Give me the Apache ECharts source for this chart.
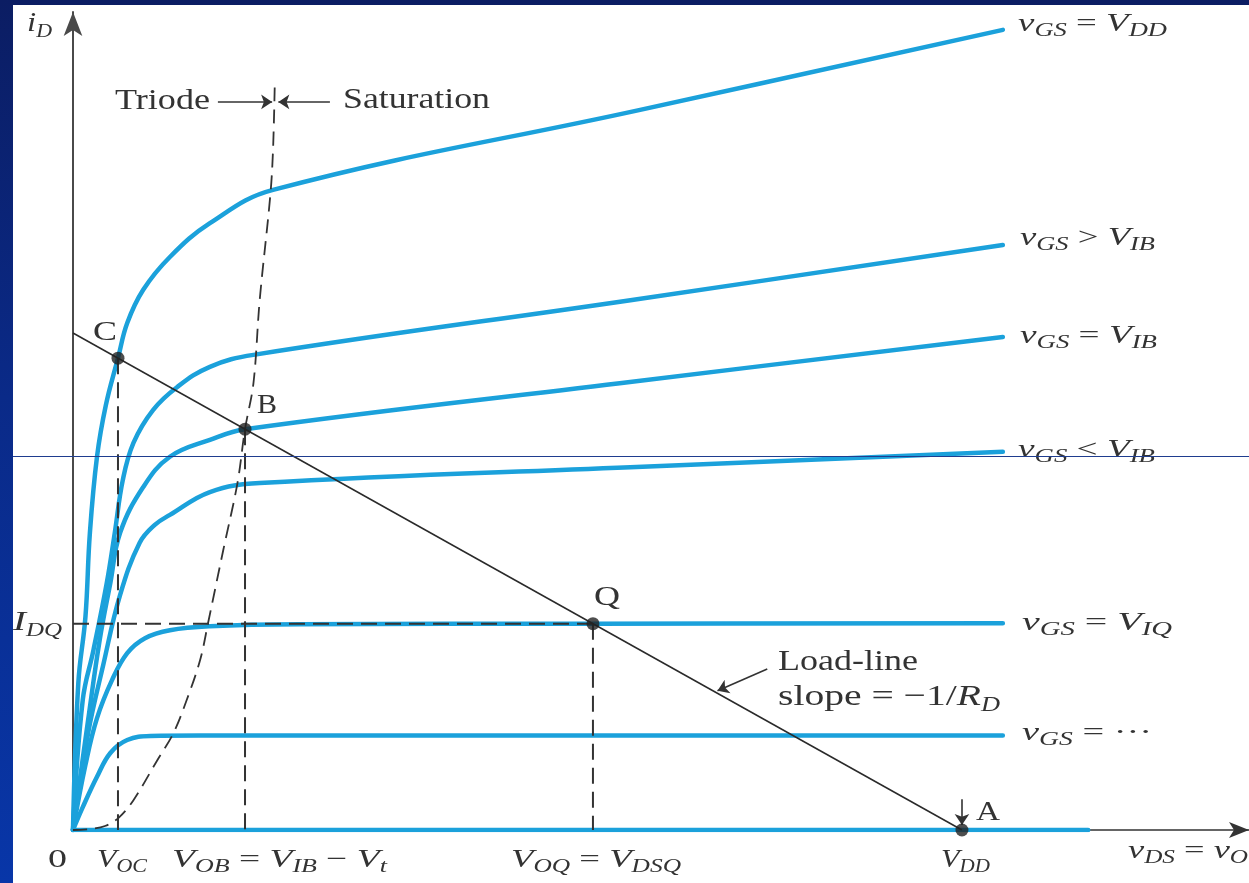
<!DOCTYPE html>
<html>
<head>
<meta charset="utf-8">
<script src="https://cdn.jsdelivr.net/npm/echarts@6/dist/echarts.min.js"></script>
<style>
  html, body { margin: 0; padding: 0; width: 1249px; height: 883px; overflow: hidden;
    background: linear-gradient(180deg, #0b1d63 0%, #0a2a88 45%, #0836a8 100%); }
  #panel { position: absolute; left: 13px; top: 5px; right: 0; bottom: 0; background: #ffffff; }
  #chart { position: absolute; left: 0; top: 0; width: 1249px; height: 883px; }
</style>
</head>
<body>
<div id="panel"></div>
<div id="chart"></div>
<script>
// v_DS in units of V_DD/10, i_D in units of V_DD/(10·R_D): the load line runs from (0,10) to (10,0).

// Drain characteristics, one array per gate voltage: [v_DS, i_D]
const curveVDD     = [[0,0],[0.06,2.96],[0.14,4.29],[0.19,5.98],[0.27,7.51],[0.37,8.55],[0.506,9.494],[0.61,10.20],[0.79,10.87],[1.09,11.53],[1.54,12.21],[2.25,12.88],[6.38,14.49],[10.46,16.10]];
const curveAboveIB = [[0,0],[0.11,2.62],[0.23,3.62],[0.38,4.97],[0.47,5.98],[0.56,7.04],[0.68,7.79],[0.90,8.45],[1.17,8.91],[1.54,9.32],[2.03,9.56],[6.27,10.66],[10.46,11.77]];
const curveIB      = [[0,0],[0.17,2.21],[0.30,3.82],[0.42,4.97],[0.53,5.98],[0.79,6.90],[1.09,7.51],[1.54,7.85],[1.935,8.065],[6.15,8.99],[10.46,9.92]];
const curveBelowIB = [[0,0],[0.17,1.95],[0.34,3.32],[0.53,4.73],[0.75,5.78],[0.92,6.14],[1.09,6.34],[1.54,6.80],[2.10,6.98],[6.27,7.30],[10.46,7.61]];
const curveIQ      = [[0,0],[0.14,1.31],[0.27,2.25],[0.44,3.02],[0.61,3.56],[0.81,3.86],[1.09,4.02],[1.54,4.10],[2.55,4.14],[5.849,4.151],[10.46,4.16]];
const curveLow     = [[0,0],[0.11,0.46],[0.27,1.07],[0.42,1.55],[0.61,1.81],[0.87,1.89],[1.43,1.90],[10.46,1.90]];
const curveOff     = [[0,0],[11.42,0]];

// Triode / saturation boundary v_DS = v_GS − V_t
const triodeEdge = [[0,0],[0.19,0.02],[0.36,0.08],[0.51,0.24],[0.68,0.60],[0.95,1.41],[1.13,1.95],[1.28,2.62],[1.43,3.42],[1.52,4.17],[1.69,5.63],[1.85,6.98],[1.935,8.065],[2.03,8.99],[2.10,10.66],[2.22,12.78],[2.25,13.68],[2.27,15.03]];

// Load line, slope −1/R_D
const loadLine = [[0,10],[10,0]];

// Operating points C, B, Q, A
const pointNames = ['C', 'B', 'Q', 'A'];
const pointValues = [[0.506,9.494],[1.935,8.065],[5.849,4.151],[10,0]];

// Annotation arrows: [tail, tip]
const arrowSegments = [
  [[1.63,14.65],[2.24,14.65]],
  [[2.89,14.65],[2.31,14.65]],
  [[7.81,3.24],[7.25,2.80]],
  [[10,0.62],[10,0.10]]
];

// Texts (rich markup: m = italic, r = roman, s = italic subscript)
const curveLabels = [
  '{m|v}{s|GS}{r| = }{m|V}{s|DD}',
  '{m|v}{s|GS}{r| > }{m|V}{s|IB}',
  '{m|v}{s|GS}{r| = }{m|V}{s|IB}',
  '{m|v}{s|GS}{r| < }{m|V}{s|IB}',
  '{m|v}{s|GS}{r| = }{m|V}{s|IQ}',
  '{m|v}{s|GS}{r| = \u00B7\u00B7\u00B7}'
];
const tickLabels = [
  '{r|0}',
  '{m|V}{s|OC}',
  '{m|V}{s|OB}{r| = }{m|V}{s|IB}{r| \u2212 }{m|V}{s|t}',
  '{m|V}{s|OQ}{r| = }{m|V}{s|DSQ}',
  '{m|V}{s|DD}',
  '{m|v}{s|DS}{r| = }{m|v}{s|O}'
];
const axisTitleY = '{m|i}{s|D}';
const levelLabel = '{m|I}{s|DQ}';
const regionLabels = ['{r|Triode}', '{r|Saturation}'];
const loadLineLabels = ['{r|Load-line}', '{r|slope = \u22121/}{m|R}{s|D}'];

const BLUE = '#1ba1db';
const INK = '#333333';
const FONT = '"Liberation Serif", "Times New Roman", serif';

const X_MAX = 13.229, Y_MAX = 16.459;

const chart = echarts.init(document.getElementById('chart'), null, { renderer: 'canvas' });

const measureCtx = document.createElement('canvas').getContext('2d');
function parseTokens(str) {
  const out = [];
  str.replace(/\{(\w)\|([^}]*)\}/g, (_, k, t) => { out.push([k, t]); return ''; });
  return out;
}
// Text block: left edge x, main baseline, total width; subscripts dropped below the baseline
function textBlock(str, x, base, width, M, S, drop, fixedScale) {
  const lh = Math.round(M * 1.25);
  const hs = Math.max(2, lh - 2 * drop + 0.675 * (S - M));
  const fonts = { m: `italic ${M}px ${FONT}`, r: `${M}px ${FONT}`, s: `italic ${S}px ${FONT}` };
  let w = 0;
  parseTokens(str).forEach(([k, t]) => { measureCtx.font = fonts[k]; w += measureCtx.measureText(t).width; });
  const sx = fixedScale || (width / w);
  return {
    type: 'text', x: x, y: base - 0.3375 * M, scaleX: sx, z: 100, silent: true,
    style: {
      text: str, align: 'left', verticalAlign: 'middle',
      fontFamily: FONT, fontSize: M, fill: INK,
      rich: {
        m: { fontFamily: FONT, fontSize: M, fontStyle: 'italic', lineHeight: lh, fill: INK },
        r: { fontFamily: FONT, fontSize: M, lineHeight: lh, fill: INK },
        s: { fontFamily: FONT, fontSize: S, fontStyle: 'italic', lineHeight: hs, verticalAlign: 'bottom', fill: INK }
      }
    }
  };
}

const graphics = [];
// curve labels on the right
[[1018,33,149],[1020,247,135],[1020,345,137],[1018,459,137],[1022,632,150],[1022,742,130]]
  .forEach((p, i) => graphics.push(textBlock(curveLabels[i], p[0], p[1], p[2], 25, 18, 7)));
// labels under the v_DS axis
[[48,869,19],[97,869,50],[172,869,215],[511,869,170],[941,869,49]]
  .forEach((p, i) => graphics.push(textBlock(tickLabels[i], p[0], p[1], p[2], 26, 18, 8)));
graphics.push(textBlock(tickLabels[5], 1128, 860, 0, 26, 18, 9, 1.4));
graphics.push(textBlock(axisTitleY, 27, 33, 25, 27, 18, 5));
graphics.push(textBlock(levelLabel, 13, 632, 49, 28, 18, 6));
// point letters
[[93,342,24],[257,415,20],[594,607,26],[976,822,24]]
  .forEach((p, i) => graphics.push(textBlock('{r|' + pointNames[i] + '}', p[0], p[1], p[2], 28, 18, 6)));
graphics.push(textBlock(regionLabels[0], 115, 111, 95, 30, 20, 7));
graphics.push(textBlock(regionLabels[1], 343, 110, 147, 30, 20, 7));
graphics.push(textBlock(loadLineLabels[0], 778, 672, 140, 30, 20, 7));
graphics.push(textBlock(loadLineLabels[1], 778, 707, 222, 30, 20, 7));
// thin rule across the slide
graphics.push({ type: 'line', z: 120, silent: true,
  shape: { x1: 13, y1: 456.5, x2: 1249, y2: 456.5 },
  style: { stroke: '#1f3d8f', lineWidth: 1 } });

function curve(data, smooth) {
  return { type: 'line', data: data, showSymbol: false, smooth: smooth,
    lineStyle: { color: BLUE, width: 4.5, cap: 'round', join: 'round' }, z: 2, silent: true };
}
function dashed(data, width, dash, smooth) {
  return { type: 'line', data: data, showSymbol: false, smooth: smooth || false,
    lineStyle: { color: '#333', width: width, type: dash }, z: 3, silent: true };
}

const series = [
  curve(curveVDD, 0.4), curve(curveAboveIB, 0.4), curve(curveIB, 0.4),
  curve(curveBelowIB, 0.4), curve(curveIQ, 0.4), curve(curveLow, 0.4), curve(curveOff, false),
  dashed(triodeEdge, 1.8, [14, 8], 0.35),
  dashed([pointValues[0], [pointValues[0][0], 0]], 2, [16, 8]),
  dashed([pointValues[1], [pointValues[1][0], 0]], 2, [16, 8]),
  dashed([pointValues[2], [pointValues[2][0], 0]], 2, [16, 8]),
  dashed([[0, pointValues[2][1]], pointValues[2]], 2, [16, 8]),
  { type: 'line', data: loadLine, showSymbol: false, z: 4, silent: true,
    lineStyle: { color: '#2a2a2a', width: 1.5 } },
  { type: 'lines', coordinateSystem: 'cartesian2d', z: 4, silent: true,
    symbol: ['none', 'arrow'], symbolSize: 11,
    lineStyle: { color: '#333', width: 1.6, opacity: 1 },
    data: arrowSegments.map(s => ({ coords: s })) },
  { type: 'scatter', data: pointValues, symbol: 'circle', symbolSize: 13, z: 6, silent: true,
    itemStyle: { color: '#222' } }
];

chart.setOption({
  animation: false,
  backgroundColor: 'transparent',
  grid: { left: 73, right: 0, top: 12, bottom: 53, containLabel: false },
  xAxis: {
    type: 'value', min: 0, max: X_MAX,
    axisLine: { show: true, onZero: false, symbol: ['none', 'arrow'], symbolSize: [12, 20],
      lineStyle: { color: '#333', width: 1.5 } },
    axisTick: { show: false }, axisLabel: { show: false }, splitLine: { show: false }
  },
  yAxis: {
    type: 'value', min: 0, max: Y_MAX,
    axisLine: { show: true, onZero: false, symbol: ['none', 'arrow'], symbolSize: [14, 24],
      lineStyle: { color: '#4a4a4a', width: 2 } },
    axisTick: { show: false }, axisLabel: { show: false }, splitLine: { show: false }
  },
  series: series,
  graphic: graphics
});
</script>
</body>
</html>
